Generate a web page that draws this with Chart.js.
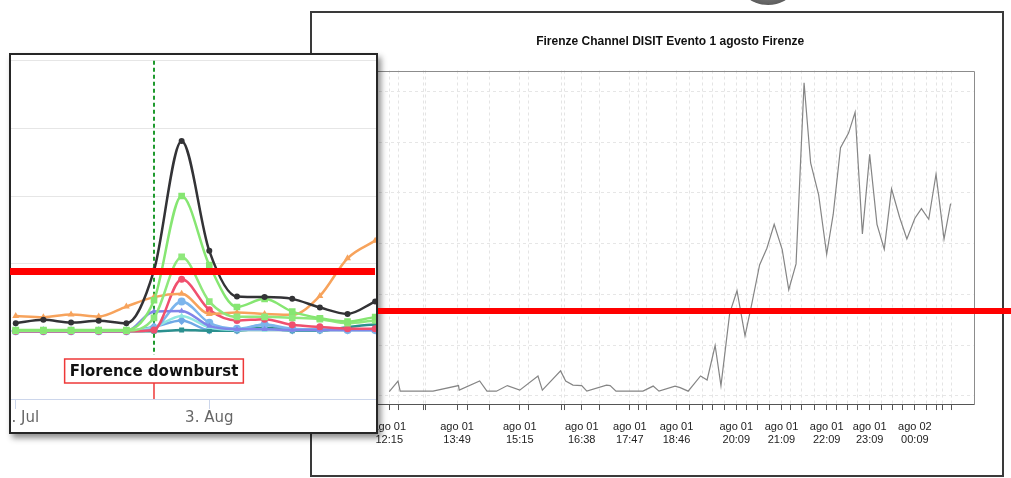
<!DOCTYPE html>
<html>
<head>
<meta charset="utf-8">
<script src="https://cdn.jsdelivr.net/npm/chart.js@4.4.0/dist/chart.umd.min.js"></script>
<style>
  html, body { margin: 0; padding: 0; background: #fff; }
  body { width: 1011px; height: 478px; position: relative; overflow: hidden; }
  #blob { position: absolute; left: 746px; top: -20px; width: 44px; height: 25px; border-radius: 50%;
          background: radial-gradient(ellipse at 50% 40%, #8a8a8a, #4a4a4a); }
  #rightPanel { position: absolute; left: 310px; top: 11px; width: 690px; height: 462px;
                border: 2px solid #3a3a3a; background: #fff; }
  #rightWrap { position: absolute; left: 360px; top: 28px; width: 620px; height: 428px; }
  #leftPanel { position: absolute; left: 9px; top: 53px; width: 365px; height: 377px;
               border: 2px solid #262626; background: #fff; overflow: hidden;
               box-shadow: 3px 4px 6px rgba(0,0,0,0.45); }
  #leftWrap { position: absolute; left: -61px; top: 0; width: 465px; height: 372px; }
  .redbar { position: absolute; background: #ff0000; }
</style>
</head>
<body>
<div id="blob"></div>
<div id="rightPanel"></div>
<div id="rightWrap"><canvas id="rightChart" width="620" height="428"></canvas></div>
<div id="leftPanel">
  <div id="leftWrap"><canvas id="leftChart" width="465" height="372"></canvas></div>
</div>
<div class="redbar" style="left:10px; top:268px; width:365px; height:7px;"></div>
<div class="redbar" style="left:378px; top:308px; width:633px; height:6px;"></div>

<script>
// ---- left chart (daily series, 27 Jul .. 10 Aug) ----
const leftDays = ['27. Jul', '28. Jul', '29. Jul', '30. Jul', '31. Jul', '1. Aug', '2. Aug',
    '3. Aug', '4. Aug', '5. Aug', '6. Aug', '7. Aug', '8. Aug', '9. Aug', '10. Aug'];
const leftTickDays = [0, 7];
const eventDay = 5;
const eventLabel = 'Florence downburst';

const seriesBlack  = [6, 8.5, 6.5, 7.8, 6, 45, 140.7, 59.5, 25.7, 25.3, 24, 17.6, 12.9, 22, 30];
const seriesGreen1 = [1, 1, 1, 1, 1, 23, 100, 49, 18, 24, 14.6, 9.7, 7.2, 10.5, 12];
const seriesGreen2 = [0.5, 0.5, 0.5, 0.5, 0.5, 10, 55, 22, 10.7, 10.7, 10, 9, 6, 8, 9];
const seriesOrange = [11.4, 10.5, 12.4, 10.9, 18.3, 25.3, 27.7, 12.9, 13.9, 12.9, 12.2, 26.2, 54, 67, 80];
const seriesRed    = [0, 0, 0, 0, 0, 1, 38.5, 15.9, 8, 9, 4.8, 3.3, 2, 2, 2];
const seriesBlue   = [0, 0, 0, 0, 0, 2, 22, 6.3, 2, 5, 2, 1.5, 1, 1, 1];
const seriesPurple = [0, 0, 0, 0, 0, 14.6, 15, 4, 1.5, 1.5, 1, 1, 1, 1, 1];
const seriesCyan   = [0, 0, 0, 0, 0, 3, 11.4, 3, 1, 1, 1, 1, 1, 1, 1];
const seriesTeal   = [0, 0, 0, 0, 0, 0, 1, 0.5, 0.5, 2.6, 0.5, 0.5, 3, 5, 5];
const seriesSky    = [0.5, 0.5, 0.5, 0.5, 0.5, 3.3, 8, 1, 1, 5, 1, 1, 1, 1, 1];

// ---- right chart (index of observation, value) ----
const rightIdx = [0, 1.2, 1.5, 6, 9.5, 9.6, 12.4, 13.4, 14.7, 16.2, 17.9, 20.4, 21, 23.5, 24.2,
    25.2, 26.4, 27.1, 29.8, 30.3, 31.1, 34.8, 36.2, 37, 39.2, 39.9, 41, 42.7, 43.6, 44.7,
    45.5, 46.7, 47.7, 48.8, 49.7, 50.8, 51.8, 52.8, 53.9, 54.8, 55.8, 56.9, 57.8, 58.9, 60,
    60.9, 61.9, 63, 63.9, 64.9, 65.9, 66.9, 67.9, 68.9, 70, 71, 72.1, 73, 74, 75, 76.1, 77];
const rightVals = [8, 29, 9, 9, 20, 11, 29, 9, 9, 20, 11, 39, 11, 49, 29,
    21, 20, 9, 21, 20, 9, 9, 19, 9, 19, 16, 9, 39, 31, 99,
    20, 163, 207, 118, 179, 258, 291, 338, 288, 209, 260, 617, 459, 396, 279,
    358, 489, 518, 559, 319, 476, 338, 289, 408, 352, 309, 350, 369, 348, 437, 309, 379];
const rightTickPos = [0, 1.3, 4.7, 5, 9.3, 10.7, 13.8, 17.9, 19.1, 23.6, 24.1, 26.4, 28.9, 33,
    34.2, 35.3, 39.4, 41.2, 43, 44.4, 46, 47.6, 49, 50.5, 52.1, 53.8, 55.1, 56.6, 58.3, 60,
    61.3, 62.8, 64.2, 65.9, 67.5, 69, 70.4, 72.1, 73.7, 75, 75.9, 77.1];
const rightLabelPos  = [0, 9.3, 17.9, 26.4, 33, 39.4, 47.6, 53.8, 60, 65.9, 72.1];
const rightLabelDay  = ['ago 01', 'ago 01', 'ago 01', 'ago 01', 'ago 01', 'ago 01',
    'ago 01', 'ago 01', 'ago 01', 'ago 01', 'ago 02'];
const rightLabelTime = ['12:15', '13:49', '15:15', '16:38', '17:47', '18:46',
    '20:09', '21:09', '22:09', '23:09', '00:09'];
const rightGridVals = [0, 100, 200, 300, 400, 500, 600];
const rightTitle = 'Firenze Channel DISIT Evento 1 agosto Firenze';

function toPoints(xs, ys) {
    return xs.map((x, i) => ({ x: x, y: ys[i] }));
}

function leftSeries(data, color, style, radius) {
    return {
        data: toPoints(leftDays.map((d, i) => i), data),
        borderColor: color,
        backgroundColor: color,
        borderWidth: 2.5,
        pointStyle: style,
        pointRadius: radius,
        pointBorderWidth: 0,
        pointBackgroundColor: color,
        cubicInterpolationMode: 'monotone',
        fill: false
    };
}

const downburstMarker = {
    id: 'downburst',
    beforeDatasetsDraw(chart) {
        const ctx = chart.ctx;
        const x = chart.scales.x.getPixelForValue(eventDay);
        const a = chart.chartArea;
        ctx.save();
        ctx.strokeStyle = '#1f9a2e';
        ctx.lineWidth = 2;
        ctx.setLineDash([4, 3]);
        ctx.beginPath();
        ctx.moveTo(x, a.top);
        ctx.lineTo(x, a.bottom - 44);
        ctx.stroke();
        ctx.restore();
    },
    afterDraw(chart) {
        const ctx = chart.ctx;
        const x = chart.scales.x.getPixelForValue(eventDay);
        const a = chart.chartArea;
        ctx.save();
        ctx.font = 'bold 15px "DejaVu Sans"';
        const w = ctx.measureText(eventLabel).width + 10;
        const h = 24;
        const top = a.bottom - 16 - h;
        ctx.fillStyle = '#fff';
        ctx.fillRect(x - w / 2, top, w, h);
        ctx.strokeStyle = '#ee3838';
        ctx.lineWidth = 1.5;
        ctx.strokeRect(x - w / 2, top, w, h);
        ctx.beginPath();
        ctx.moveTo(x, top + h);
        ctx.lineTo(x, a.bottom);
        ctx.stroke();
        ctx.fillStyle = '#111';
        ctx.textAlign = 'center';
        ctx.textBaseline = 'middle';
        ctx.fillText(eventLabel, x, top + h / 2 + 1);
        ctx.restore();
    }
};

new Chart(document.getElementById('leftChart'), {
    type: 'line',
    plugins: [downburstMarker],
    data: {
        datasets: [
            leftSeries(seriesBlack, '#333336', 'circle', 3),
            leftSeries(seriesGreen1, '#86e672', 'rect', 4.7),
            leftSeries(seriesGreen2, '#8fe87c', 'rect', 4.7),
            leftSeries(seriesOrange, '#f7a35c', 'triangle', 4),
            leftSeries(seriesRed, '#f0506e', 'circle', 3.5),
            leftSeries(seriesPurple, '#8085e9', 'triangle', 3.5),
            leftSeries(seriesBlue, '#7cb5ec', 'circle', 4),
            leftSeries(seriesCyan, '#91e8e1', 'triangle', 3.5),
            leftSeries(seriesTeal, '#2b908f', 'rect', 3.5),
            leftSeries(seriesSky, '#6fa8e6', 'rectRot', 4.5)
        ]
    },
    options: {
        responsive: false,
        animation: false,
        layout: { padding: { top: 5.7, left: 0, right: 0, bottom: 0 } },
        plugins: { legend: { display: false }, tooltip: { enabled: false } },
        scales: {
            x: {
                type: 'linear',
                min: -2.208,
                max: 14.27,
                afterBuildTicks: axis => { axis.ticks = leftTickDays.map(v => ({ value: v })); },
                ticks: {
                    autoSkip: false,
                    maxRotation: 0,
                    padding: 0,
                    color: '#666',
                    font: { family: 'DejaVu Sans', size: 15, lineHeight: 1.2 },
                    callback: value => leftDays[value]
                },
                grid: { drawOnChartArea: false, tickLength: 10, tickColor: '#ccd6eb', color: '#ccd6eb' },
                border: { display: true, color: '#ccd6eb', width: 1 }
            },
            y: {
                min: -50,
                max: 200,
                ticks: { display: false, stepSize: 50 },
                grid: {
                    drawTicks: false,
                    color: ctx => ctx.tick && ctx.tick.value === -50 ? 'rgba(0,0,0,0)' : '#e6e6e6'
                },
                border: { display: false }
            }
        }
    }
});

const plotFrame = {
    id: 'plotFrame',
    afterDraw(chart) {
        const ctx = chart.ctx;
        const a = chart.chartArea;
        const l = Math.round(a.left) + 0.5, t = Math.round(a.top) + 0.5;
        const r = Math.round(a.right) + 0.5, b = Math.round(a.bottom) + 0.5;
        ctx.save();
        ctx.lineWidth = 1;
        ctx.strokeStyle = '#8c8c8c';
        ctx.beginPath();
        ctx.moveTo(l, b);
        ctx.lineTo(l, t);
        ctx.lineTo(r, t);
        ctx.lineTo(r, b);
        ctx.stroke();
        ctx.strokeStyle = '#555';
        ctx.beginPath();
        ctx.moveTo(l, b);
        ctx.lineTo(r, b);
        ctx.stroke();
        ctx.restore();
    }
};

new Chart(document.getElementById('rightChart'), {
    type: 'line',
    plugins: [plotFrame],
    data: {
        datasets: [{
            data: toPoints(rightIdx, rightVals),
            borderColor: '#858585',
            borderWidth: 1.2,
            pointRadius: 0,
            tension: 0,
            fill: false
        }]
    },
    options: {
        responsive: false,
        animation: false,
        layout: { padding: { top: 0, left: 6.8, right: 6.5, bottom: 0 } },
        plugins: {
            legend: { display: false },
            tooltip: { enabled: false },
            title: {
                display: true,
                text: rightTitle,
                color: '#111',
                font: { family: 'Liberation Sans', size: 12, weight: 'bold', lineHeight: 1.2 },
                padding: { top: 6.8, bottom: 21.3 }
            }
        },
        scales: {
            x: {
                type: 'linear',
                min: -3.08,
                max: 80.14,
                afterBuildTicks: axis => { axis.ticks = rightTickPos.map(v => ({ value: v })); },
                ticks: {
                    autoSkip: false,
                    maxRotation: 0,
                    padding: 10,
                    color: '#222',
                    font: { family: 'Liberation Sans', size: 11, lineHeight: 1.18 },
                    callback: value => {
                        const k = rightLabelPos.indexOf(value);
                        return k >= 0 ? [rightLabelDay[k], rightLabelTime[k]] : '';
                    }
                },
                grid: { color: '#e4e4e4', tickColor: '#555', tickLength: 6, tickWidth: 1, tickBorderDash: [] },
                border: { display: true, color: '#555', dash: [3, 3] }
            },
            y: {
                min: -16.4,
                max: 641.4,
                afterBuildTicks: axis => { axis.ticks = rightGridVals.map(v => ({ value: v })); },
                ticks: { display: false },
                grid: { color: '#e6e6e6', drawTicks: false },
                border: { display: false, dash: [3, 3] }
            }
        }
    }
});
</script>
</body>
</html>
